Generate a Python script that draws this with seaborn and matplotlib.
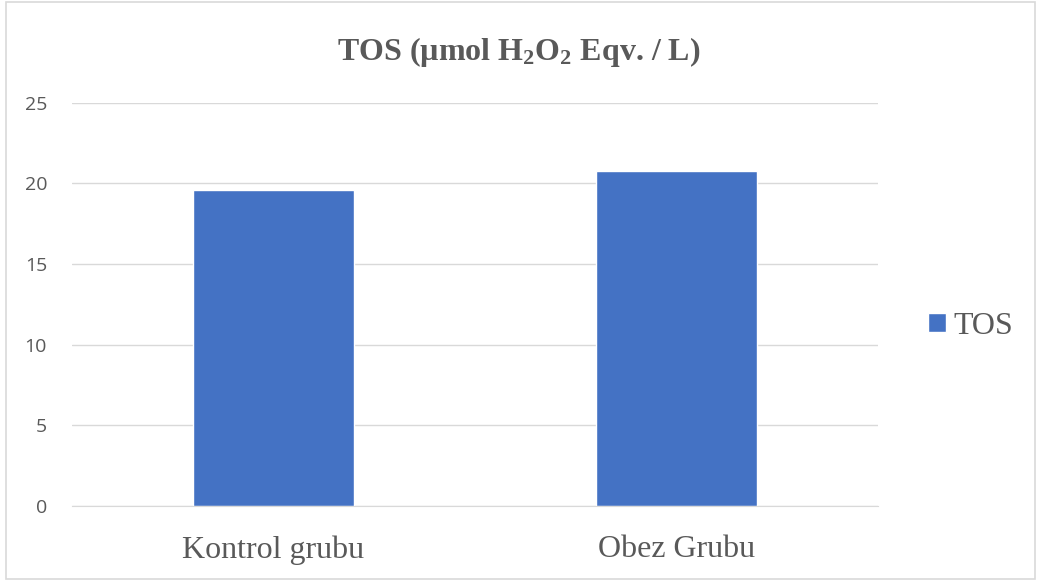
import numpy as np
import pandas as pd
import seaborn as sns
import matplotlib.pyplot as plt
from matplotlib.patches import Rectangle

# data
categories = ["Kontrol grubu", "Obez Grubu"]
tos_values = [19.58, 20.77]
series_name = "TOS"
y_ticks = [0, 5, 10, 15, 20, 25]

df = pd.DataFrame({"grup": categories, "deger": tos_values, "seri": series_name})

sns.set_style("white")
plt.rcParams["mathtext.default"] = "regular"

text_col = "#595959"
bar_col = "#4472C4"
grid_col = "#D9D9D9"

fig = plt.figure(figsize=(10.37, 5.81), dpi=100)
ax = fig.add_axes([72 / 1037, 75 / 581, 806 / 1037, 403.3 / 581])

sns.barplot(data=df, x="grup", y="deger", hue="seri", palette=[bar_col],
            width=0.4, dodge=False, ax=ax, saturation=1)

ax.set_xlim(-0.5, 1.5)
ax.set_ylim(0, 25)
ax.set_yticks(y_ticks)
ax.set_yticklabels([str(t) for t in y_ticks], family="Open Sans", fontsize=14, color=text_col)
ax.set_xticks(range(len(categories)))
ax.set_xticklabels(categories, family="Liberation Serif", fontsize=23, color=text_col)
ax.tick_params(axis="x", length=0, pad=21)
ax.tick_params(axis="y", length=0, pad=18)
ax.set_xlabel("")
ax.set_ylabel("")
ax.grid(axis="y", color=grid_col, linewidth=1)
ax.set_axisbelow(True)
for s in ["top", "right", "left"]:
    ax.spines[s].set_visible(False)
ax.spines["bottom"].set_color(grid_col)

fig.text(0.5, 0.910, "TOS (µmol H$_2$O$_2$ Eqv. / L)", ha="center", va="center",
         family="Liberation Serif", fontweight="bold", fontsize=23, color=text_col)

leg = ax.legend(loc="center left", bbox_to_anchor=(1.062, 0.445), frameon=False,
                borderaxespad=0, borderpad=0,
                handlelength=0.55, handleheight=0.55, handletextpad=0.25,
                prop={"family": "Liberation Serif", "size": 23})
for t in leg.get_texts():
    t.set_color(text_col)

fig.patches.append(Rectangle((6 / 1037, 2 / 581), 1029 / 1037, 577 / 581,
                             transform=fig.transFigure, fill=False,
                             edgecolor=grid_col, linewidth=1.2))

fig.savefig("out.png", dpi=100)
